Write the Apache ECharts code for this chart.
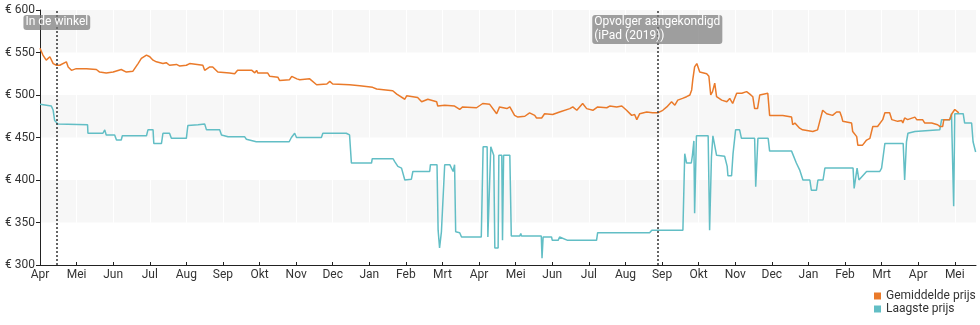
<!DOCTYPE html>
<html>
<head>
<meta charset="utf-8">
<script src="https://cdn.jsdelivr.net/npm/echarts@6/dist/echarts.min.js"></script>
<style>
html,body{margin:0;padding:0;background:#fff;}
#chart{width:980px;height:325px;}
</style>
</head>
<body>
<div id="chart"></div>
<script>
// x values are months since April 2018 (0 = 1 Apr 2018)
const monthLabels = ['Apr','Mei','Jun','Jul','Aug','Sep','Okt','Nov','Dec','Jan','Feb','Mrt','Apr','Mei','Jun','Jul','Aug','Sep','Okt','Nov','Dec','Jan','Feb','Mrt','Apr','Mei'];
const xMax = 25.58;
const yMin = 300, yMax = 600, yStep = 50;

const seriesNames = ['Gemiddelde prijs', 'Laagste prijs'];

const gemiddeldePrijs = [
[0,555],[0.08,547],[0.17,541],[0.27,545],[0.36,537],[0.45,535],[0.54,535],[0.72,539],[0.77,533],[0.86,529],[0.99,531],[1.27,531],[1.54,530],[1.63,527],[1.81,526],[2.00,527],[2.22,530],[2.36,527],[2.54,528],[2.68,537],[2.77,543],[2.91,547],[3.00,545],[3.09,541],[3.18,539],[3.36,537],[3.45,538],[3.54,535],[3.73,536],[3.82,534],[4.00,535],[4.09,537],[4.45,535],[4.50,529],[4.64,533],[4.72,533],[4.86,527],[5.18,526],[5.32,525],[5.40,529],[5.79,529],[5.87,526],[5.92,529],[5.95,526],[6.22,526],[6.28,522],[6.50,521],[6.55,517],[6.82,518],[6.88,522],[7.02,519],[7.10,518],[7.37,519],[7.56,512],[7.84,513],[7.92,516],[8.00,513],[8.46,512],[8.74,511],[9.09,509],[9.20,507],[9.64,505],[9.75,501],[9.97,495],[10.02,499],[10.32,497],[10.43,492],[10.60,495],[10.65,497],[10.84,492],[10.87,487],[11.06,488],[11.33,487],[11.47,483],[11.55,486],[11.93,485],[11.96,483],[12.10,490],[12.29,489],[12.48,478],[12.56,486],[12.76,484],[12.84,486],[12.97,476],[13.06,474],[13.25,475],[13.38,479],[13.52,476],[13.57,473],[13.71,473],[13.79,478],[14.01,477],[14.20,480],[14.48,484],[14.56,486],[14.67,482],[14.83,490],[14.94,484],[15.11,482],[15.24,486],[15.49,485],[15.57,487],[15.76,486],[15.90,487],[16.03,482],[16.17,476],[16.25,477],[16.31,471],[16.39,478],[16.58,480],[16.74,479],[16.88,479],[17.02,482],[17.13,486],[17.26,492],[17.35,488],[17.43,494],[17.56,496],[17.67,498],[17.76,500],[17.81,506],[17.84,518],[17.89,533],[17.95,537],[18.00,535],[18.03,527],[18.22,525],[18.28,522],[18.33,500],[18.38,504],[18.44,514],[18.49,498],[18.63,494],[18.77,492],[18.85,496],[18.93,490],[19.04,502],[19.18,502],[19.31,504],[19.40,501],[19.48,498],[19.53,484],[19.61,484],[19.67,500],[19.89,502],[19.94,476],[20.30,476],[20.54,474],[20.57,465],[20.63,467],[20.76,461],[20.84,459],[21.12,457],[21.25,459],[21.31,469],[21.39,482],[21.50,478],[21.66,476],[21.77,480],[21.86,480],[21.91,474],[21.94,469],[22.18,467],[22.21,457],[22.32,451],[22.35,441],[22.48,441],[22.59,447],[22.68,449],[22.76,463],[22.89,463],[23.03,471],[23.09,479],[23.22,479],[23.28,471],[23.44,469],[23.55,470],[23.58,467],[23.63,473],[23.71,471],[23.91,474],[23.96,471],[24.12,471],[24.18,467],[24.37,467],[24.40,468],[24.53,465],[24.59,463],[24.67,463],[24.70,471],[24.86,471],[24.92,478],[25.00,483],[25.05,483],[25.11,479]
];

const laagstePrijs = [
[0,489],[0.31,487],[0.36,482],[0.40,470],[0.49,466],[1.30,465],[1.31,455],[1.72,455],[1.77,459],[1.81,453],[2.04,453],[2.09,447],[2.22,447],[2.25,452],[2.91,452],[2.95,459],[3.09,459],[3.11,443],[3.32,443],[3.36,455],[3.54,455],[3.59,449],[4.00,449],[4.04,464],[4.32,465],[4.50,466],[4.55,459],[4.91,459],[4.96,453],[5.14,451],[5.59,451],[5.64,448],[5.91,445],[6.81,445],[6.87,450],[6.96,455],[7.01,450],[7.69,450],[7.73,455],[8.37,455],[8.46,453],[8.51,420],[9.06,420],[9.08,425],[9.65,425],[9.69,422],[9.78,416],[9.88,414],[9.97,400],[10.15,401],[10.19,410],[10.65,410],[10.67,418],[10.85,418],[10.88,341],[10.92,320],[10.97,339],[11.06,418],[11.20,418],[11.29,410],[11.33,418],[11.36,339],[11.47,338],[11.52,333],[12.06,333],[12.11,439],[12.22,439],[12.24,333],[12.29,333],[12.32,439],[12.35,439],[12.40,429],[12.43,320],[12.52,320],[12.54,429],[12.62,429],[12.64,329],[12.67,429],[12.84,429],[12.88,334],[13.11,334],[13.14,337],[13.16,334],[13.70,334],[13.72,308],[13.75,333],[13.98,333],[14.00,329],[14.16,329],[14.20,333],[14.42,329],[15.21,329],[15.24,338],[16.66,338],[16.72,341],[17.57,341],[17.62,431],[17.67,420],[17.80,420],[17.83,429],[17.87,446],[17.89,361],[17.94,452],[18.26,452],[18.30,341],[18.35,427],[18.39,452],[18.44,452],[18.49,429],[18.71,428],[18.78,416],[18.80,405],[18.90,405],[18.94,431],[19.01,459],[19.12,459],[19.17,449],[19.53,449],[19.56,392],[19.60,392],[19.62,449],[19.90,449],[19.94,434],[20.54,434],[20.67,420],[20.76,412],[20.85,400],[21.04,400],[21.08,388],[21.22,388],[21.26,400],[21.40,400],[21.45,414],[22.22,414],[22.25,390],[22.29,390],[22.33,414],[22.38,400],[22.59,410],[22.95,410],[23.00,414],[23.09,443],[23.59,443],[23.63,400],[23.68,445],[23.72,455],[23.91,457],[23.95,459],[24.59,459],[24.64,471],[24.86,471],[24.91,478],[24.95,478],[24.97,369],[25.00,478],[25.23,478],[25.27,467],[25.46,467],[25.50,445],[25.57,433]
];

const annotationX = [0.46, 16.87];
const annotationText = [['In de winkel'], ['Opvolger aangekondigd', '(iPad (2019))']];

const colors = ['#ea7a2a', '#62bec5'];
const FONT = 'Roboto, "Noto Sans", sans-serif';

const chart = echarts.init(document.getElementById('chart'), null, {renderer: 'canvas'});
chart.setOption({
  animation: false,
  textStyle: {fontFamily: FONT},
  grid: {left: 40, right: 4, top: 10, bottom: 60, containLabel: false},
  legend: {
    orient: 'vertical', left: 874, top: 290, padding: 0,
    itemWidth: 7, itemHeight: 7, itemGap: 1, icon: 'rect',
    textStyle: {fontSize: 12, color: '#333', fontFamily: FONT},
    data: seriesNames
  },
  xAxis: {
    type: 'value', min: 0, max: xMax, interval: 1,
    axisLine: {show: true, onZero: false, lineStyle: {color: '#222', width: 1}},
    axisTick: {show: true, inside: true, length: 3, lineStyle: {color: '#222'},
      customValues: monthLabels.map((_, i) => i)},
    axisLabel: {color: '#333', fontSize: 12, margin: 4, fontFamily: FONT,
      customValues: monthLabels.map((_, i) => i),
      formatter: v => monthLabels[Math.round(v)] || ''},
    splitLine: {show: true, lineStyle: {color: 'rgba(255,255,255,0.9)', width: 1}}
  },
  yAxis: {
    type: 'value', min: yMin, max: yMax, interval: yStep,
    axisLine: {show: true, lineStyle: {color: '#222', width: 1}},
    axisTick: {show: true, length: 4, lineStyle: {color: '#222'}},
    axisLabel: {color: '#333', fontSize: 12, margin: 5, fontFamily: FONT,
      formatter: v => '€ ' + v},
    splitLine: {show: false},
    splitArea: {show: true, areaStyle: {color: ['rgba(255,255,255,0)', '#f7f7f7']}}
  },
  series: [
    {
      name: seriesNames[0], type: 'line', data: gemiddeldePrijs,
      showSymbol: false, symbol: 'none', z: 3,
      lineStyle: {color: colors[0], width: 1.5}, itemStyle: {color: colors[0]},
      emphasis: {disabled: true},
      markLine: {
        silent: true, symbol: ['none', 'none'], label: {show: false},
        lineStyle: {type: [2, 2], color: '#333', width: 1.5},
        data: annotationX.map(x => ({xAxis: x}))
      },
      markPoint: {
        silent: true, symbol: 'rect', symbolSize: 0,
        itemStyle: {color: 'rgba(0,0,0,0)'},
        label: {
          show: true, position: 'bottom', distance: 5,
          backgroundColor: 'rgba(120,120,120,0.7)', borderRadius: 3,
          padding: [0, 2, 1, 2],
          rich: {t: {color: '#fff', fontSize: 12, fontFamily: FONT, align: 'left', lineHeight: 14}}
        },
        data: annotationX.map((x, i) => ({
          coord: [x, yMax],
          label: {formatter: annotationText[i].map(s => '{t|' + s + '}').join('\n')}
        }))
      }
    },
    {
      name: seriesNames[1], type: 'line', data: laagstePrijs,
      showSymbol: false, symbol: 'none', z: 2,
      lineStyle: {color: colors[1], width: 1.5}, itemStyle: {color: colors[1]},
      emphasis: {disabled: true}
    }
  ]
});
</script>
</body>
</html>
